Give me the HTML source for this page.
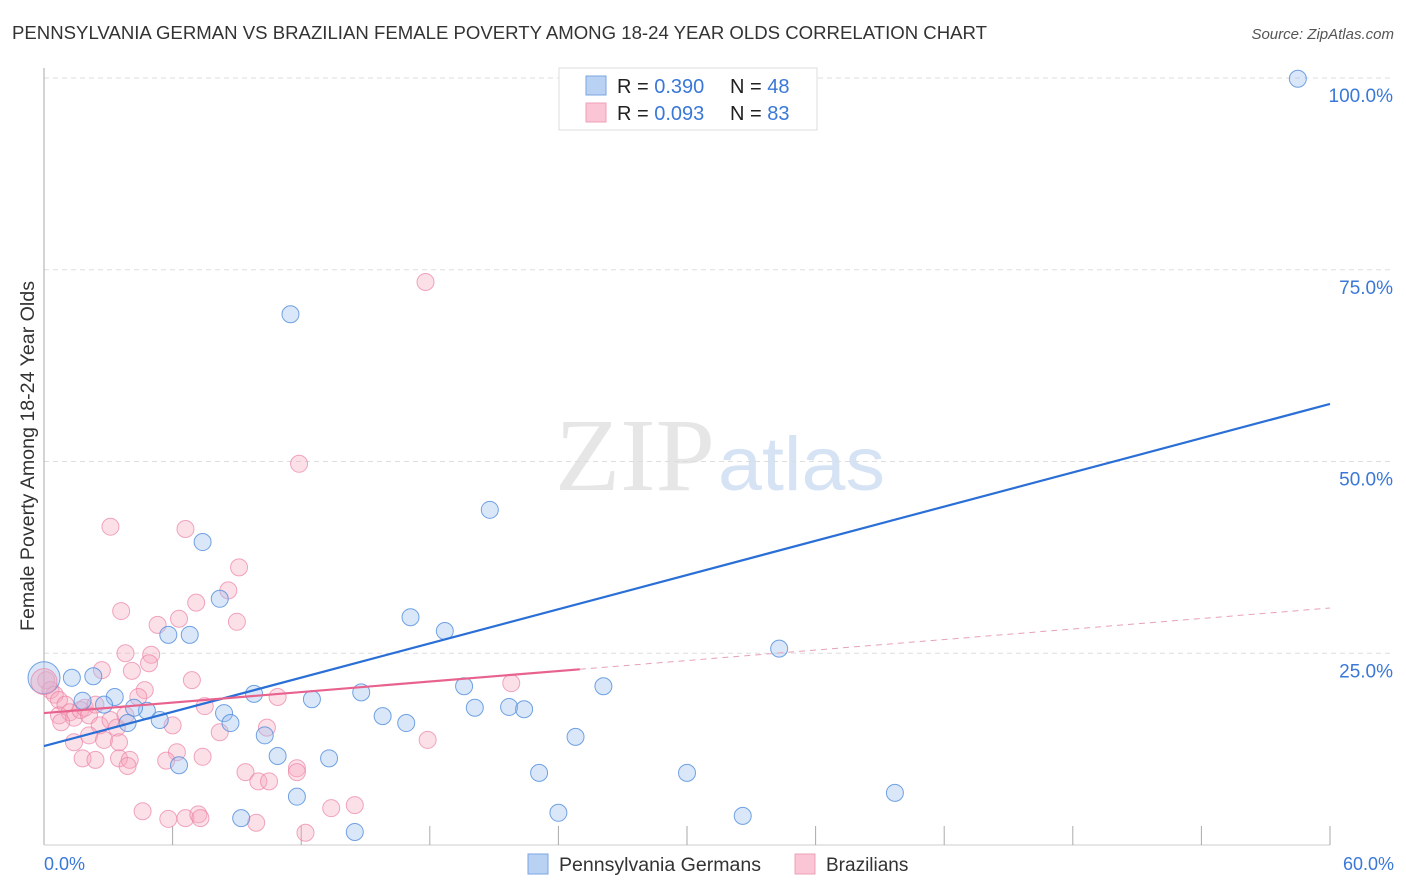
<!DOCTYPE html>
<html><head><meta charset="utf-8"><style>
body{margin:0;background:#fff;font-family:"Liberation Sans",sans-serif}
</style></head><body>
<svg id="chart" width="1406" height="892" xmlns="http://www.w3.org/2000/svg" style="display:block">
<text x="12" y="39" font-size="18" fill="#333" textLength="975" lengthAdjust="spacingAndGlyphs">PENNSYLVANIA GERMAN VS BRAZILIAN FEMALE POVERTY AMONG 18-24 YEAR OLDS CORRELATION CHART</text>
<text x="1394" y="39" font-size="15" fill="#555" text-anchor="end" font-style="italic">Source: ZipAtlas.com</text>
<text x="555" y="490" font-size="104" fill="#e6e6e6" font-family="Liberation Serif, serif" textLength="160" lengthAdjust="spacingAndGlyphs">ZIP</text>
<text x="718" y="490" font-size="76" fill="#d6e3f5" textLength="167" lengthAdjust="spacingAndGlyphs">atlas</text>
<text transform="translate(34,456) rotate(-90)" font-size="19" fill="#333" text-anchor="middle" textLength="350" lengthAdjust="spacingAndGlyphs">Female Poverty Among 18-24 Year Olds</text>
<g id="grid"></g><g id="pts"></g><g id="lines"></g>
<g>
<rect x="559" y="68" width="258" height="62" fill="#fff" stroke="#ddd"/>
<rect x="586" y="76" width="20" height="19" fill="#b9d2f3" stroke="#7aa6e0"/>
<rect x="586" y="103" width="20" height="19" fill="#fac5d5" stroke="#f0a0b8"/>
<text x="617" y="93" font-size="20" fill="#222">R = <tspan fill="#3a78d8">0.390</tspan><tspan x="730">N = </tspan><tspan fill="#3a78d8">48</tspan></text>
<text x="617" y="120" font-size="20" fill="#222">R = <tspan fill="#3a78d8">0.093</tspan><tspan x="730">N = </tspan><tspan fill="#3a78d8">83</tspan></text>
</g>
<g>
<rect x="528" y="854" width="20" height="20" fill="#b9d2f3" stroke="#7aa6e0"/>
<text x="559" y="871" font-size="19" fill="#333" textLength="202" lengthAdjust="spacingAndGlyphs">Pennsylvania Germans</text>
<rect x="795" y="854" width="20" height="20" fill="#fac5d5" stroke="#f0a0b8"/>
<text x="826" y="871" font-size="19" fill="#333">Brazilians</text>
</g>
<text x="44" y="870" font-size="18" fill="#3a78d8">0.0%</text>
<text x="1394" y="870" font-size="18" fill="#3a78d8" text-anchor="end">60.0%</text>
</svg>
<script>
const yTicks=[100,75,50,25];
const blueX=[58.5,11.5,20.8,7.4,8.2,17.1,18.7,5.8,6.8,34.3,1.3,2.3,26.1,19.6,14.8,9.8,12.5,3.3,1.8,2.8,20.1,21.7,22.4,4.8,4.2,8.4,15.8,3.9,5.4,8.7,16.9,10.3,24.8,10.9,13.3,6.3,23.1,30.0,11.8,39.7,24.0,32.6,9.2,14.5,28.1,30.6];
const blueY=[99.9,69.2,43.7,39.5,32.1,29.7,27.9,27.4,27.4,25.6,21.8,22.0,20.7,20.7,19.9,19.7,19.0,19.3,18.8,18.3,17.9,18.0,17.7,17.5,17.9,17.2,16.8,15.9,16.3,15.9,15.9,14.3,14.1,11.6,11.3,10.4,9.4,9.4,6.3,6.8,4.2,3.8,3.5,1.7,100,100];
const pinkX=[17.8,11.9,3.1,6.6,9.1,8.6,3.6,7.1,6.3,5.3,9.0,3.8,5.0,4.9,2.7,4.1,6.9,21.8,4.7,10.9,7.5,6.0,10.4,8.2,17.9,7.4,6.2,9.4,11.8,10.0,4.6,13.4,14.5,5.8,9.9,12.2,0.1,0.3,0.5,0.7,1.0,0.7,1.2,1.4,1.7,1.9,2.1,2.4,0.8,2.6,3.1,2.1,1.4,1.8,2.4,2.8,3.4,3.5,3.8,4.4,3.5,4.0,5.7,3.9,11.8,10.5,6.6,7.2,7.3];
const pinkY=[73.4,49.7,41.5,41.2,36.2,33.2,30.5,31.6,29.5,28.7,29.1,25.0,24.8,23.7,22.8,22.7,21.5,21.1,20.2,19.3,18.1,15.6,15.3,14.7,13.7,11.5,12.1,9.5,10.0,8.3,4.4,4.8,5.2,3.4,2.9,1.6,21.5,20.2,19.6,18.9,18.3,16.9,17.3,16.6,17.6,17.9,16.9,18.3,16.0,15.6,16.3,14.3,13.4,11.3,11.1,13.7,15.3,13.4,16.9,19.3,11.3,11.1,11.0,10.3,9.5,8.3,3.5,4.0,3.5];
const blueTrend=[12.9,57.5];
const pinkTrend=[17.2,30.9];
const pinkSolidEnd=25;
const X=v=>44+v*(1286/60), Y=v=>845-v*7.67;
const NS='http://www.w3.org/2000/svg';
function mk(t,a,p){const e=document.createElementNS(NS,t);for(const k in a)e.setAttribute(k,a[k]);p.appendChild(e);return e;}
const grid=document.getElementById('grid');
yTicks.forEach(t=>{
 const l=mk('line',{x1:44,x2:1394,y1:Y(t),y2:Y(t),stroke:'#ddd','stroke-dasharray':'5,4'},grid);
 
 
 const tx=mk('text',{x:1393,y:Y(t)+24,'font-size':19,fill:'#3a78d8','text-anchor':'end'},grid);
 tx.textContent=t.toFixed(1)+'%';
 
 
});
const ax=mk('line',{x1:44,x2:44,y1:68,y2:845,stroke:'#aaa'},grid);


const bx=mk('line',{x1:44,x2:1330,y1:845,y2:845,stroke:'#ccc'},grid);


for(let i=1;i<=10;i++){const t=mk('line',{x1:X(i*6),x2:X(i*6),y1:826,y2:845,stroke:'#aaa'},grid);
 
 }
const pts=document.getElementById('pts');
pinkX.forEach((x,i)=>{const c=mk('circle',{cx:X(x),cy:Y(pinkY[i]),r:8.5,fill:'rgba(245,165,190,0.35)',stroke:'rgba(235,130,165,0.7)'},pts);
 
 });
blueX.forEach((x,i)=>{const c=mk('circle',{cx:X(x),cy:Y(blueY[i]),r:8.5,fill:'rgba(160,195,240,0.4)',stroke:'rgba(80,140,220,0.8)'},pts);
 
 });
const big1=mk('circle',{cx:X(0),cy:Y(21.8),r:16,fill:'rgba(160,195,240,0.4)',stroke:'rgba(80,140,220,0.8)'},pts);


const big2=mk('circle',{cx:X(0),cy:Y(21.3),r:13,fill:'rgba(245,165,190,0.4)',stroke:'rgba(235,130,165,0.7)'},pts);


const lines=document.getElementById('lines');
const bl=mk('line',{x1:X(0),y1:Y(blueTrend[0]),x2:X(60),y2:Y(blueTrend[1]),stroke:'#2a6fd6','stroke-width':2.2},lines);


const pAt=x=>pinkTrend[0]+(pinkTrend[1]-pinkTrend[0])*x/60;
const pl=mk('line',{x1:X(0),y1:Y(pAt(0)),x2:X(pinkSolidEnd),y2:Y(pAt(pinkSolidEnd)),stroke:'#e8628e','stroke-width':2.2},lines);


const pd=mk('line',{x1:X(pinkSolidEnd),y1:Y(pAt(pinkSolidEnd)),x2:X(60),y2:Y(pAt(60)),stroke:'#e8a0b8','stroke-width':1,'stroke-dasharray':'6,5'},lines);


</script>
</body></html>
